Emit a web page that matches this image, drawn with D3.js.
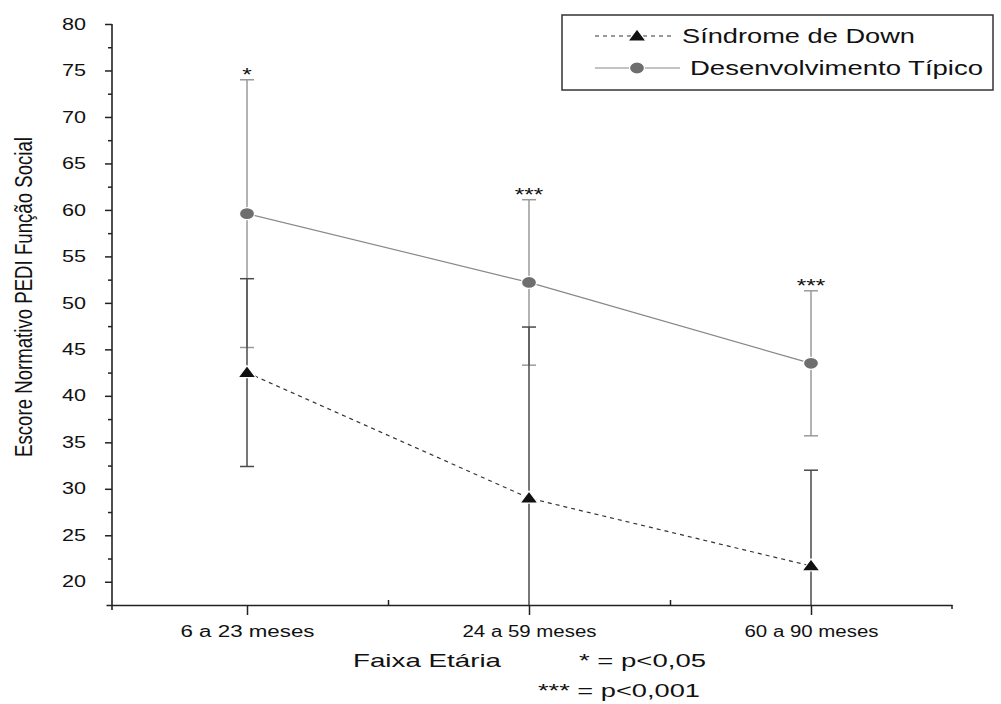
<!DOCTYPE html>
<meta charset="utf-8">
<script src="https://d3js.org/d3.v7.min.js"></script>
<style>
  body { margin: 0; background: #fff; }
  text { font-family: "Liberation Sans", Arial, sans-serif; fill: #111; }
</style>
<div id="chart"></div>
<script>
// faixas etárias (eixo x)
const faixas = ["6 a 23 meses", "24 a 59 meses", "60 a 90 meses"];
// Síndrome de Down: média e desvio padrão
const downMedia = [42.5, 29.0, 21.7];
const downDP = [10.1, 18.4, 10.3];
// Desenvolvimento típico: média e desvio padrão
const tipicoMedia = [59.6, 52.2, 43.5];
const tipicoDP = [14.4, 8.9, 7.8];
// marcas de significância
const signif = ["*", "***", "***"];
const yTicks = [20, 25, 30, 35, 40, 45, 50, 55, 60, 65, 70, 75, 80];
const yMinor = [22.5, 27.5, 32.5, 37.5, 42.5, 47.5, 52.5, 57.5, 62.5, 67.5, 72.5, 77.5];

const W = 1001, H = 704;
const axisX = 112, axisY = 605;

const svg = d3.select("#chart").append("svg")
    .attr("width", W).attr("height", H);

const x = d3.scaleLinear().domain([0.5, 3.5]).range([106, 952]);
const y = d3.scaleLinear().domain([17.5, 80]).range([axisY, 24]);
const yMin = y.domain()[0];

// eixo y
const gy = svg.append("g").attr("transform", `translate(${axisX},0)`);
gy.call(d3.axisLeft(y).tickValues(yTicks).tickSize(7).tickSizeOuter(0).tickPadding(19));
gy.select(".domain").remove();
gy.selectAll(".tick line").attr("stroke", "#222").attr("stroke-width", 1.5);
gy.selectAll(".tick text")
    .attr("font-size", 16)
    .attr("textLength", 24).attr("lengthAdjust", "spacingAndGlyphs");
gy.append("g").call(d3.axisLeft(y).tickValues(yMinor).tickSize(4).tickFormat(""))
  .call(g => g.select(".domain").remove())
  .selectAll(".tick line").attr("stroke", "#222").attr("stroke-width", 1.5);
gy.append("line").attr("y1", y(80)).attr("y2", axisY + 5)
    .attr("stroke", "#222").attr("stroke-width", 1.6);

// eixo x
const gx = svg.append("g").attr("transform", `translate(0,${axisY})`);
gx.call(d3.axisBottom(x).tickValues([1, 2, 3]).tickSize(10).tickSizeOuter(0)
    .tickFormat(d => faixas[d - 1]));
gx.select(".domain").attr("stroke", "#222").attr("stroke-width", 1.6);
gx.selectAll(".tick line").attr("stroke", "#222").attr("stroke-width", 1.5);
gx.selectAll(".tick text")
    .attr("y", 32).attr("dy", 0)
    .attr("font-size", 16)
    .attr("textLength", 134).attr("lengthAdjust", "spacingAndGlyphs");
gx.append("g").call(d3.axisTop(x).tickValues([1.5, 2.5]).tickSize(5).tickFormat(""))
  .call(g => g.select(".domain").remove())
  .selectAll(".tick line").attr("stroke", "#222").attr("stroke-width", 1.5);
gx.append("line").attr("x1", x(3.5)).attr("x2", x(3.5)).attr("y1", 0).attr("y2", 4)
    .attr("stroke", "#222").attr("stroke-width", 1.5);

// barras de erro
function errorBars(media, dp, color) {
  const g = svg.append("g");
  media.forEach((m, i) => {
    const cx = x(i + 1);
    const hi = m + dp[i], lo = Math.max(m - dp[i], yMin);
    g.append("line").attr("x1", cx).attr("x2", cx)
      .attr("y1", y(hi)).attr("y2", y(lo))
      .attr("stroke", color).attr("stroke-width", 1.5);
    [hi, m - dp[i]].filter(v => v > yMin).forEach(v => {
      g.append("line").attr("x1", cx - 7).attr("x2", cx + 7)
        .attr("y1", y(v)).attr("y2", y(v))
        .attr("stroke", color).attr("stroke-width", 1.5);
    });
  });
}
errorBars(tipicoMedia, tipicoDP, "#9a9a9a");
errorBars(downMedia, downDP, "#4a4a4a");

// linhas
const line = d3.line().x((d, i) => x(i + 1)).y(d => y(d));
svg.append("path").datum(tipicoMedia).attr("d", line)
    .attr("fill", "none").attr("stroke", "#888").attr("stroke-width", 1.2);
svg.append("path").datum(downMedia).attr("d", line)
    .attr("fill", "none").attr("stroke", "#333").attr("stroke-width", 1.2)
    .attr("stroke-dasharray", "4,4");

// marcadores
function triangle(g, cx, cy) {
  g.append("path")
    .attr("d", `M${cx},${cy - 7}L${cx + 9},${cy + 5}L${cx - 9},${cy + 5}Z`)
    .attr("fill", "#111").attr("stroke", "#fff").attr("stroke-width", 1.2);
}
function dot(g, cx, cy) {
  g.append("ellipse").attr("cx", cx).attr("cy", cy).attr("rx", 7.5).attr("ry", 6)
    .attr("fill", "#6e6e6e").attr("stroke", "#fff").attr("stroke-width", 1.2);
}
const gm = svg.append("g");
tipicoMedia.forEach((m, i) => dot(gm, x(i + 1), y(m)));
downMedia.forEach((m, i) => triangle(gm, x(i + 1), y(m)));

// asteriscos de significância
svg.append("g").selectAll("text").data(signif).join("text")
    .attr("x", (d, i) => x(i + 1))
    .attr("y", (d, i) => y(tipicoMedia[i] + tipicoDP[i]) + 1)
    .attr("text-anchor", "middle").attr("font-size", 18)
    .attr("textLength", d => d.length * 9.5).attr("lengthAdjust", "spacingAndGlyphs")
    .text(d => d);

// título do eixo y
svg.append("text")
    .attr("transform", "translate(24,297) scale(1.4,1) rotate(-90)")
    .attr("y", 6).attr("text-anchor", "middle").attr("font-size", 17)
    .attr("textLength", 320).attr("lengthAdjust", "spacingAndGlyphs")
    .text("Escore Normativo PEDI Função Social");

// título do eixo x e notas
svg.append("text").attr("x", 353).attr("y", 667).attr("font-size", 19)
    .attr("textLength", 148).attr("lengthAdjust", "spacingAndGlyphs")
    .text("Faixa Etária");
svg.append("text").attr("x", 579).attr("y", 667).attr("font-size", 19)
    .attr("textLength", 127).attr("lengthAdjust", "spacingAndGlyphs")
    .text("* = p<0,05");
svg.append("text").attr("x", 538).attr("y", 697).attr("font-size", 19)
    .attr("textLength", 162).attr("lengthAdjust", "spacingAndGlyphs")
    .text("*** = p<0,001");

// legenda
const lg = svg.append("g");
lg.append("rect").attr("x", 562).attr("y", 15).attr("width", 431).attr("height", 75)
    .attr("fill", "#fff").attr("stroke", "#333").attr("stroke-width", 1.5);
lg.append("line").attr("x1", 595).attr("x2", 675).attr("y1", 36).attr("y2", 36)
    .attr("stroke", "#333").attr("stroke-width", 1.2).attr("stroke-dasharray", "4,4");
triangle(lg, 637, 36);
lg.append("text").attr("x", 682).attr("y", 43).attr("font-size", 19.5)
    .attr("textLength", 233).attr("lengthAdjust", "spacingAndGlyphs")
    .text("Síndrome de Down");
lg.append("line").attr("x1", 595).attr("x2", 680).attr("y1", 68).attr("y2", 68)
    .attr("stroke", "#888").attr("stroke-width", 1.2);
dot(lg, 637, 68);
lg.append("text").attr("x", 690).attr("y", 75).attr("font-size", 19.5)
    .attr("textLength", 293).attr("lengthAdjust", "spacingAndGlyphs")
    .text("Desenvolvimento Típico");
</script>
